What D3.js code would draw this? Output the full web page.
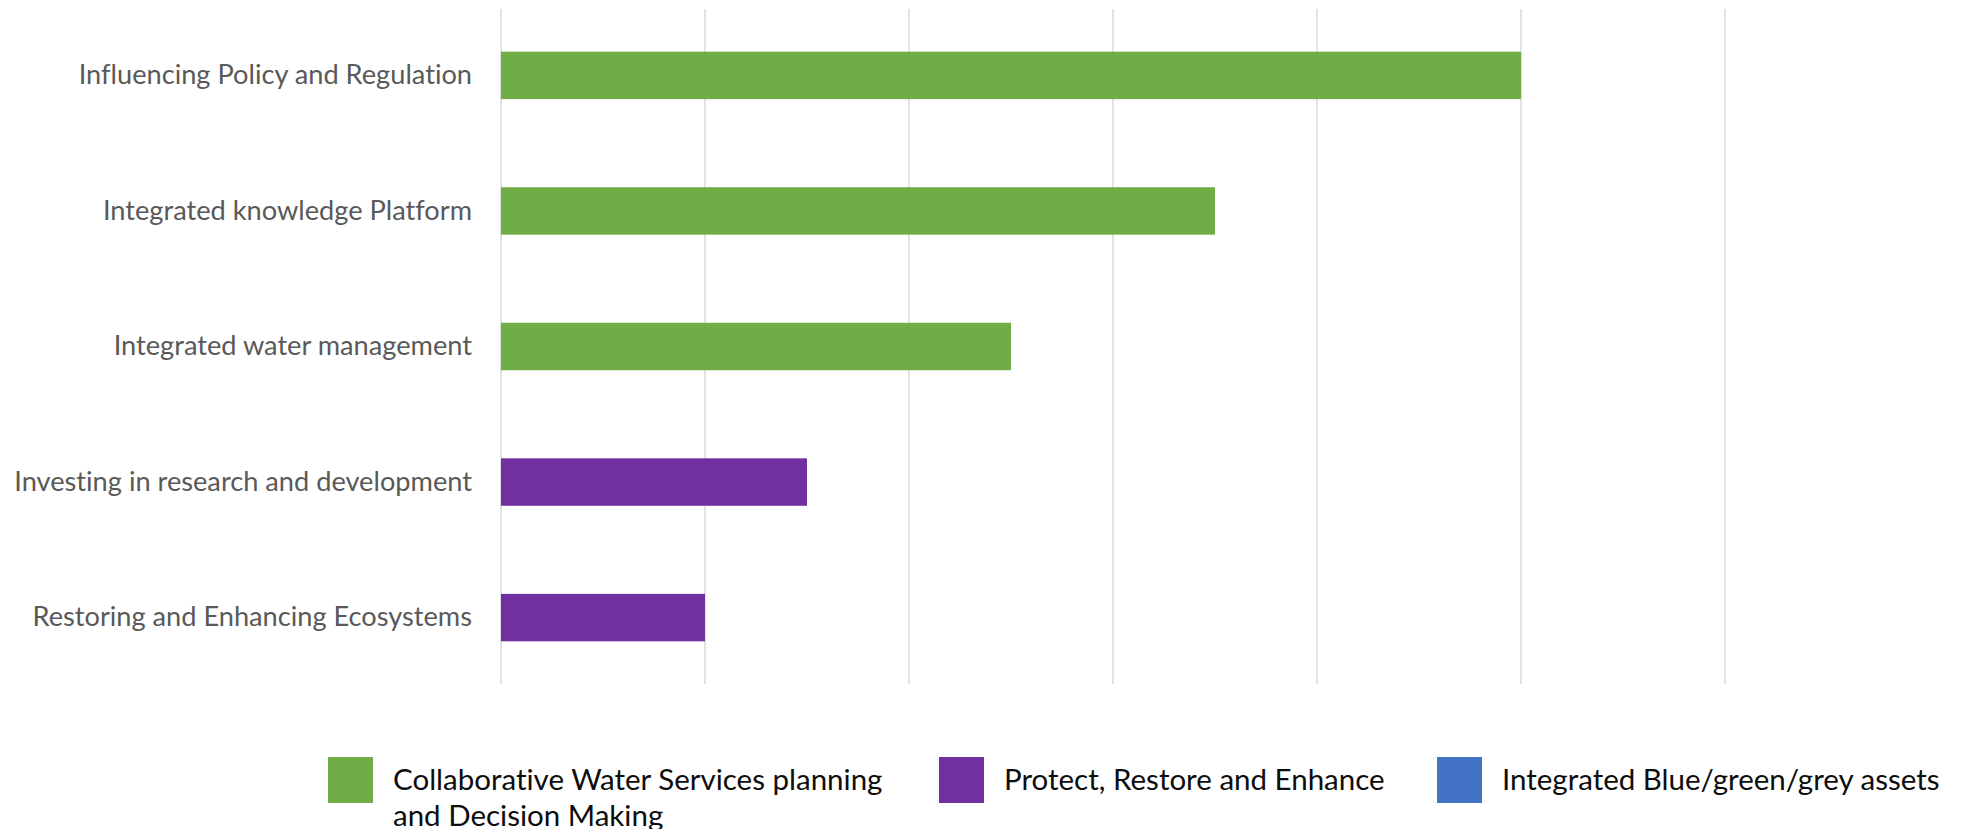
<!DOCTYPE html>
<html>
<head>
<meta charset="utf-8">
<script src="https://cdn.jsdelivr.net/npm/d3@7"></script>
<style>
  body { margin: 0; background: #fff; }
  #chart text { font-family: Lato, "Open Sans", sans-serif; font-variant-ligatures: none; }
</style>
</head>
<body>
<div id="chart"></div>
<script>
// Data
const categories = [
  "Influencing Policy and Regulation",
  "Integrated knowledge Platform",
  "Integrated water management",
  "Investing in research and development",
  "Restoring and Enhancing Ecosystems"
];
const seriesNames = [
  "Collaborative Water Services planning and Decision Making",
  "Protect, Restore and Enhance",
  "Integrated Blue/green/grey assets"
];
const collaborative = [5, 3.5, 2.5, 0, 0];
const protect = [0, 0, 0, 1.5, 1];
const blueGreenGrey = [0, 0, 0, 0, 0];
const xTicks = [0, 1, 2, 3, 4, 5, 6];
const colors = ["#70AD47", "#7030A0", "#4472C4"];

// table for d3.stack
const rows = categories.map((c, i) => ({
  cat: c, s0: collaborative[i], s1: protect[i], s2: blueGreenGrey[i]
}));

var width = 1963, height = 829;
var margin = {top: 9, right: 238, bottom: 145, left: 501};

var svg = d3.select("#chart").append("svg")
  .attr("width", width)
  .attr("height", height);

let xscale = d3.scaleLinear()
  .domain([0, 6])
  .range([margin.left, width - margin.right]);

let yscale = d3.scaleBand()
  .domain(categories)
  .range([margin.top, height - margin.bottom])
  .paddingInner(0.65)
  .paddingOuter(0.315);

// gridlines
svg.append("g").attr("class", "grid")
  .selectAll("line")
  .data(xTicks)
  .join("line")
  .attr("x1", d => xscale(d))
  .attr("x2", d => xscale(d))
  .attr("y1", margin.top)
  .attr("y2", height - margin.bottom)
  .attr("stroke", "#D9D9D9")
  .attr("stroke-width", 1.5);

// stacked bars
const stacked = d3.stack().keys(["s0", "s1", "s2"])(rows);

svg.append("g").selectAll("g")
  .data(stacked)
  .join("g")
  .attr("fill", (d, i) => colors[i])
  .selectAll("rect")
  .data(d => d)
  .join("rect")
  .attr("x", d => xscale(d[0]))
  .attr("width", d => xscale(d[1]) - xscale(d[0]))
  .attr("y", d => yscale(d.data.cat))
  .attr("height", yscale.bandwidth());

// category axis
var yaxis = d3.axisLeft(yscale).tickSize(0).tickPadding(29);
svg.append("g").attr("id", "y-axis")
  .attr("transform", "translate(" + margin.left + ",0)")
  .call(yaxis)
  .call(g => g.select(".domain").remove())
  .selectAll("text")
    .style("font-size", "27.2px")
    .attr("fill", "#595959");

// legend
const legendX = [328, 939, 1437];
const legendLines = [
  ["Collaborative Water Services planning", "and Decision Making"],
  ["Protect, Restore and Enhance"],
  ["Integrated Blue/green/grey assets"]
];
const legend = svg.append("g").attr("class", "legend")
  .selectAll("g")
  .data(seriesNames)
  .join("g")
  .attr("transform", (d, i) => "translate(" + legendX[i] + ",757)");

legend.append("rect")
  .attr("width", 45)
  .attr("height", 46)
  .attr("fill", (d, i) => colors[i]);

legend.append("text")
  .attr("x", 65)
  .attr("y", 33)
  .style("font-size", "29.5px")
  .attr("fill", "#0d0d0d")
  .selectAll("tspan")
  .data((d, i) => legendLines[i])
  .join("tspan")
  .attr("x", 65)
  .attr("dy", (d, j) => j === 0 ? 0 : 36)
  .text(d => d);
</script>
</body>
</html>
